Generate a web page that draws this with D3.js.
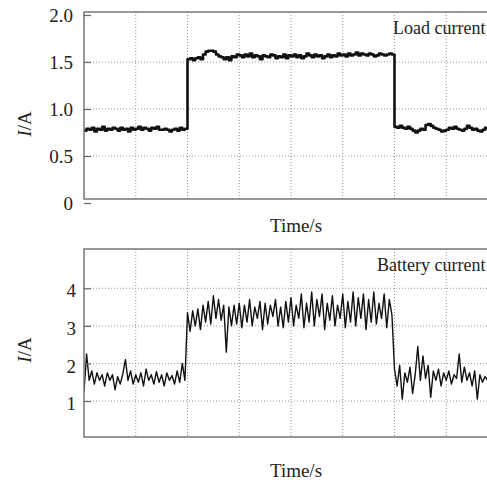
<!DOCTYPE html>
<html>
<head>
<meta charset="utf-8">
<script src="https://cdn.jsdelivr.net/npm/d3@7"></script>
<style>
  body { margin: 0; background: #fff; }
  svg { display: block; }
  text { font-family: "Liberation Serif", "DejaVu Serif", serif; fill: #222; }
</style>
</head>
<body>
<div class="canvas"></div>
<script>
// sample spacing (one grid division = 1 time unit)
const dt = 0.05

// load current, A
const loadCurrent = [
  0.77,0.79,0.78,0.80,0.76,0.79,0.78,0.81,0.77,0.79,0.78,0.80,0.79,0.77,0.80,0.78,0.79,0.76,0.80,0.78,
  0.79,0.81,0.78,0.80,0.79,0.77,0.80,0.79,0.81,0.78,0.78,0.79,0.78,0.76,0.78,0.79,0.77,0.80,0.78,0.79,
  1.53,1.54,1.52,1.54,1.55,1.53,1.58,1.61,1.62,1.62,1.61,1.58,1.56,1.55,1.53,1.55,1.52,1.56,1.55,1.58,
  1.57,1.55,1.58,1.56,1.59,1.55,1.57,1.56,1.53,1.57,1.56,1.55,1.58,1.57,1.54,1.56,1.55,1.58,1.54,1.57,
  1.56,1.58,1.55,1.57,1.54,1.56,1.59,1.57,1.55,1.58,1.56,1.57,1.54,1.56,1.58,1.55,1.57,1.56,1.59,1.57,
  1.58,1.56,1.59,1.57,1.58,1.60,1.57,1.59,1.58,1.57,1.59,1.58,1.56,1.57,1.59,1.58,1.57,1.58,1.59,1.58,
  0.81,0.80,0.82,0.80,0.79,0.81,0.79,0.77,0.75,0.77,0.79,0.78,0.83,0.84,0.82,0.80,0.79,0.78,0.76,0.77,
  0.78,0.80,0.79,0.81,0.79,0.78,0.77,0.79,0.82,0.80,0.78,0.79,0.77,0.76,0.78,0.80,0.79,0.78,0.79,0.78
]

// battery current, A
const batteryCurrent = [
  1.25,2.25,1.55,1.80,1.45,1.75,1.55,1.70,1.40,1.75,1.55,1.70,1.30,1.65,1.45,1.72,2.10,1.55,1.80,1.45,
  1.70,1.50,1.75,1.40,1.85,1.55,1.70,1.45,1.78,1.50,1.70,1.40,1.75,1.55,1.68,1.45,1.80,1.50,2.00,1.55,
  3.35,2.85,3.40,3.00,3.45,2.90,3.55,3.10,3.65,3.05,3.80,3.20,3.70,3.15,3.55,2.30,3.50,3.00,3.55,3.05,
  3.60,2.95,3.55,3.10,3.70,3.00,3.50,3.20,3.65,2.90,3.60,3.05,3.55,3.25,3.70,3.00,3.50,2.95,3.65,3.10,
  3.75,3.00,3.55,3.20,3.85,2.95,3.60,3.10,3.90,3.00,3.70,3.25,3.85,2.90,3.60,3.15,3.80,3.00,3.55,3.20,
  3.85,2.95,3.65,3.10,3.90,3.00,3.75,3.20,3.85,2.90,3.70,3.10,3.90,3.05,3.60,3.20,3.85,2.95,3.70,3.30,
  1.85,1.40,1.95,1.05,1.75,1.50,1.90,1.20,1.70,2.45,1.55,2.20,1.60,1.95,1.10,1.80,1.55,1.85,1.40,1.75,
  1.55,1.80,1.45,1.70,1.60,2.25,1.50,1.90,1.55,1.75,1.40,1.80,1.05,1.70,1.50,1.65,1.55,1.70,1.60,1.65
]

// tick labels
const loadTicks = [0, 0.5, 1, 1.5, 2]
const batteryTicks = [1, 2, 3, 4]
const timeGrid = [1, 2, 3, 4, 5, 6, 7]

const dims = { width: 487, height: 483 }

const svg = d3.select('.canvas')
  .append('svg')
  .attr('width', dims.width)
  .attr('height', dims.height)

// shared time scale (the figure is cut off on the right)
const x = d3.scaleLinear().domain([0, 8]).range([84, 498])

const panels = [
  {
    id: 'load', values: loadCurrent, ticks: loadTicks, grid: [0.5, 1, 1.5],
    domain: [0, 2], range: [203, 15], top: 12, bottom: 199,
    fmt: d => d === 0 ? '0' : d3.format('.1f')(d), pad: 11, dy: '0.33em',
    title: 'Load current', titleX: 393, titleY: 34, timeY: 232, yLabel: 124,
    lineWidth: 2.6, curve: d3.curveStepAfter
  },
  {
    id: 'battery', values: batteryCurrent, ticks: batteryTicks, grid: [1, 2, 3, 4],
    domain: [0, 5], range: [438.6, 250.7], top: 249, bottom: 437,
    fmt: d3.format('d'), pad: 8, dy: '0.45em',
    title: 'Battery current', titleX: 377, titleY: 271, timeY: 477, yLabel: 350,
    lineWidth: 1.4, curve: d3.curveLinear
  }
]

panels.forEach(p => {
  const y = d3.scaleLinear().domain(p.domain).range(p.range)
  const g = svg.append('g').attr('class', p.id)

  g.append('clipPath').attr('id', 'clip-' + p.id)
    .append('rect')
    .attr('x', x(0)).attr('y', p.top)
    .attr('width', x(8) - x(0)).attr('height', p.bottom - p.top)

  // dotted grid
  g.selectAll('.hgrid')
    .data(p.grid)
    .enter().append('line')
    .attr('class', 'hgrid')
    .attr('x1', x(0)).attr('x2', x(8))
    .attr('y1', d => y(d)).attr('y2', d => y(d))
    .attr('stroke', '#999').attr('stroke-width', 1)
    .attr('stroke-dasharray', '1,2')

  g.selectAll('.vgrid')
    .data(timeGrid)
    .enter().append('line')
    .attr('class', 'vgrid')
    .attr('x1', d => x(d)).attr('x2', d => x(d))
    .attr('y1', p.top).attr('y2', p.bottom)
    .attr('stroke', '#999').attr('stroke-width', 1)
    .attr('stroke-dasharray', '1,2')

  // signal trace
  const line = d3.line()
    .x((d, i) => x(i * dt))
    .y(d => y(d))
    .curve(p.curve)

  g.append('path')
    .datum(p.values)
    .attr('clip-path', `url(#clip-${p.id})`)
    .attr('fill', 'none')
    .attr('stroke', '#111')
    .attr('stroke-width', p.lineWidth)
    .attr('stroke-linejoin', 'round')
    .attr('d', line)

  // frame
  g.append('rect')
    .attr('x', x(0)).attr('y', p.top)
    .attr('width', x(8) - x(0)).attr('height', p.bottom - p.top)
    .attr('fill', 'none')
    .attr('stroke', '#777')
    .attr('stroke-width', 1.5)

  // y axis with inward ticks
  const axis = d3.axisLeft(y)
    .tickValues(p.ticks)
    .tickFormat(p.fmt)
    .tickSize(-7)
    .tickPadding(p.pad)

  const ax = g.append('g')
    .attr('transform', `translate(${x(0)},0)`)
    .call(axis)
  ax.select('.domain').remove()
  ax.selectAll('line').attr('stroke', '#666').attr('stroke-width', 1.2)
  ax.selectAll('text')
    .attr('dy', p.dy)
    .style('font-size', '19px')
    .style('font-family', '"Liberation Serif", serif')
    .attr('fill', '#222')

  // panel title
  g.append('text')
    .attr('x', p.titleX).attr('y', p.titleY)
    .style('font-size', '18px')
    .text(p.title)

  // x label
  g.append('text')
    .attr('x', 296).attr('y', p.timeY)
    .attr('text-anchor', 'middle')
    .style('font-size', '19px')
    .text('Time/s')

  // y label
  const yl = g.append('text')
    .attr('transform', `translate(31,${p.yLabel}) rotate(-90)`)
    .attr('text-anchor', 'middle')
    .style('font-size', '19px')
  yl.append('tspan').style('font-style', 'italic').text('I')
  yl.append('tspan').text('/A')
})
</script>
</body>
</html>
